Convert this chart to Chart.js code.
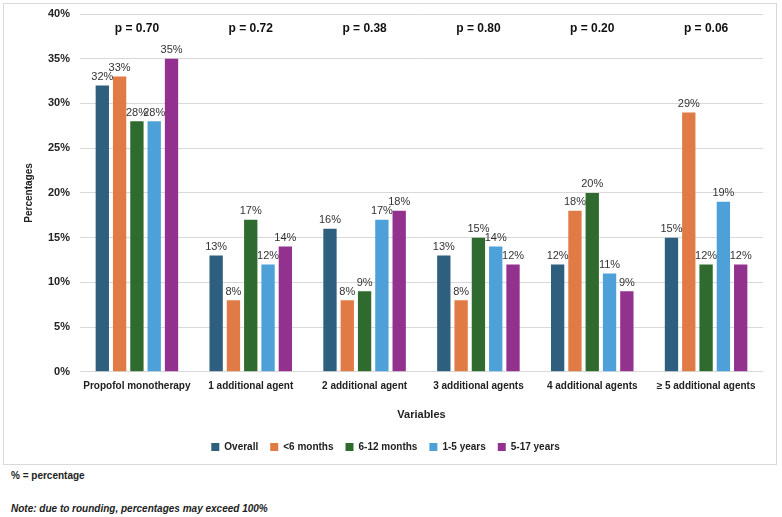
<!DOCTYPE html>
<html>
<head>
<meta charset="utf-8">
<script src="https://cdn.jsdelivr.net/npm/chart.js@4/dist/chart.umd.min.js"></script>
<style>
  body { margin: 0; background: #fff; font-family: "Liberation Sans", Arial, sans-serif; }
  #wrap { position: relative; width: 782px; height: 517px; }
  #box { position: absolute; left: 3px; top: 3px; width: 772px; height: 460px; border: 1px solid #d9d9d9; }
  .note { position: absolute; left: 11px; font-size: 10px; font-weight: bold; color: #222; }
</style>
</head>
<body>
<div id="wrap">
  <div id="box"><canvas id="groupChart" width="772" height="460"></canvas></div>
  <div class="note" style="top:470px">% = percentage</div>
  <div class="note" style="top:503px; font-style: italic">Note: due to rounding, percentages may exceed 100%</div>
</div>
<script>
const categories = ['Propofol monotherapy', '1 additional agent', '2 additional agent', '3 additional agents', '4 additional agents', '\u2265 5 additional agents'];
const pValues = ['p = 0.70', 'p = 0.72', 'p = 0.38', 'p = 0.80', 'p = 0.20', 'p = 0.06'];
const overall = [32, 13, 16, 13, 12, 15];
const under6Months = [33, 8, 8, 8, 18, 29];
const months6to12 = [28, 17, 9, 15, 20, 12];
const years1to5 = [28, 12, 17, 14, 11, 19];
const years5to17 = [35, 14, 18, 12, 9, 12];
const yTicks = [0, 5, 10, 15, 20, 25, 30, 35, 40];

const labelFont = '"Liberation Sans", Arial, sans-serif';

const barLabels = {
    id: 'barLabels',
    afterDatasetsDraw(chart) {
        const ctx = chart.ctx;
        ctx.save();
        ctx.font = '11px ' + labelFont;
        ctx.fillStyle = '#333';
        ctx.textAlign = 'center';
        ctx.textBaseline = 'bottom';
        chart.data.datasets.forEach((ds, i) => {
            chart.getDatasetMeta(i).data.forEach((bar, j) => {
                ctx.fillText(ds.data[j] + '%', bar.x, bar.y - 3);
            });
        });
        ctx.restore();
    }
};

const pLabels = {
    id: 'pLabels',
    afterDraw(chart) {
        const ctx = chart.ctx;
        const x = chart.scales.x, y = chart.scales.y;
        ctx.save();
        ctx.font = 'bold 12px ' + labelFont;
        ctx.fillStyle = '#111';
        ctx.textAlign = 'center';
        ctx.textBaseline = 'middle';
        pValues.forEach((p, i) => {
            ctx.fillText(p, x.getPixelForValue(i), y.getPixelForValue(38.4));
        });
        ctx.restore();
    }
};

function makeSet(label, data, color) {
    return {
        label: label,
        data: data,
        backgroundColor: color,
        barPercentage: 0.77,
        categoryPercentage: 0.76
    };
}

new Chart(document.getElementById('groupChart'), {
    type: 'bar',
    data: {
        labels: categories,
        datasets: [
            makeSet('Overall', overall, '#2e5f7f'),
            makeSet('<6 months', under6Months, '#e07b45'),
            makeSet('6-12 months', months6to12, '#2f6b2e'),
            makeSet('1-5 years', years1to5, '#4ea0d8'),
            makeSet('5-17 years', years5to17, '#93328e')
        ]
    },
    options: {
        responsive: false,
        animation: false,
        layout: { padding: { left: 4, top: 10, right: 13, bottom: 2 } },
        plugins: {
            tooltip: { enabled: false },
            legend: {
                position: 'bottom',
                labels: {
                    boxWidth: 8,
                    boxHeight: 8,
                    padding: 12,
                    color: '#222',
                    font: { family: labelFont, size: 10, weight: 'bold' }
                }
            }
        },
        scales: {
            x: {
                grid: { display: false },
                border: { display: false },
                ticks: { color: '#222', autoSkip: false, font: { family: labelFont, size: 10, weight: 'bold' }, maxRotation: 0, padding: 0 },
                title: { display: true, text: 'Variables', color: '#222', font: { family: labelFont, size: 11, weight: 'bold' }, padding: { top: 17, bottom: 8 } }
            },
            y: {
                min: 0,
                max: 40,
                afterBuildTicks(axis) { axis.ticks = yTicks.map(v => ({ value: v })); },
                afterFit(axis) {
                    axis.width = 72;
                    axis.paddingTop = 0;
                    axis.paddingBottom = 0;
                },
                grid: { color: '#d9d9d9', drawTicks: false },
                border: { display: false },
                ticks: { color: '#222', padding: 10, font: { family: labelFont, size: 11, weight: 'bold' }, callback: v => v + '%' },
                title: { display: true, text: 'Percentages', color: '#222', font: { family: labelFont, size: 10, weight: 'bold' }, padding: { top: 15, bottom: 4 } }
            }
        }
    },
    plugins: [barLabels, pLabels]
});
</script>
</body>
</html>
